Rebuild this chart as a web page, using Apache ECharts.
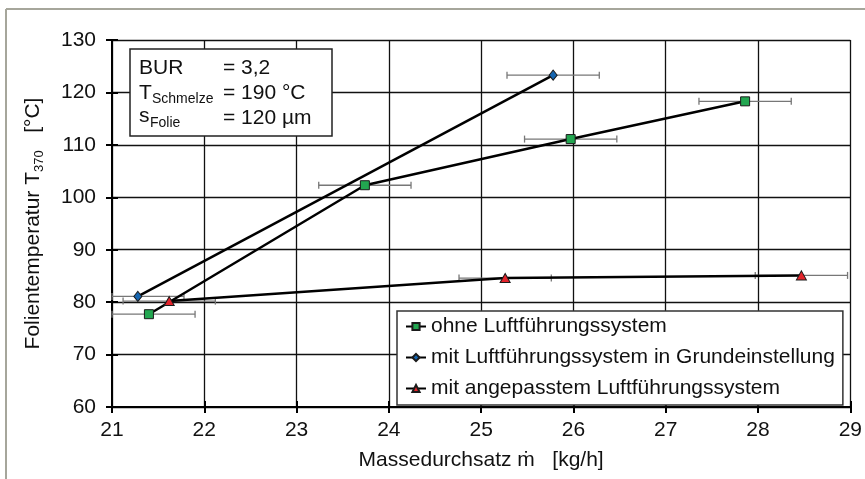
<!DOCTYPE html>
<html>
<head>
<meta charset="utf-8">
<script src="https://cdn.jsdelivr.net/npm/echarts@6/dist/echarts.min.js"></script>
<style>
html,body{margin:0;padding:0;background:#fff;}
#c{width:865px;height:479px;}
</style>
</head>
<body>
<div id="c"></div>
<script>
// ---- data ----
const seriesNames = [
  'ohne Luftführungssystem',
  'mit Luftführungssystem in Grundeinstellung',
  'mit angepasstem Luftführungssystem'
];
const ohneX  = [21.40, 23.74, 25.97, 27.86];
const ohneY  = [77.7, 102.3, 111.1, 118.3];
const grundX = [21.28, 25.78];
const grundY = [81.1, 123.3];
const angepX = [21.62, 25.26, 28.47];
const angepY = [80.2, 84.6, 85.1];
const ohneErr  = [0.5, 0.5, 0.5, 0.5];
const grundErr = [0.5, 0.5];
const angepErr = [0.5, 0.5, 0.5];
const xMin = 21, xMax = 29, xStep = 1;
const yMin = 60, yMax = 130, yStep = 10;

const FONT = '"Liberation Sans", Arial, sans-serif';
const FS = 21;

function pairs(xs, ys) { return xs.map((x, i) => [x, ys[i]]); }
function errData(xs, ys, es) { return xs.map((x, i) => [x, ys[i], es[i]]); }

function errRender(params, api) {
  const x = api.value(0), y = api.value(1), e = api.value(2);
  const lo = Math.max(xMin, x - e), hi = Math.min(xMax, x + e);
  const p1 = api.coord([lo, y]), p2 = api.coord([hi, y]);
  const st = { stroke: '#777', lineWidth: 1.3 };
  const cap = 3.5;
  return {
    type: 'group',
    children: [
      { type: 'line', shape: { x1: p1[0], y1: p1[1], x2: p2[0], y2: p2[1] }, style: st },
      { type: 'line', shape: { x1: p1[0], y1: p1[1] - cap, x2: p1[0], y2: p1[1] + cap }, style: st },
      { type: 'line', shape: { x1: p2[0], y1: p2[1] - cap, x2: p2[0], y2: p2[1] + cap }, style: st }
    ]
  };
}

const chart = echarts.init(document.getElementById('c'), null, { renderer: 'canvas' });

const axisLbl = { fontSize: FS, color: '#111', fontFamily: FONT };
const f20 = FS + 'px ' + FONT;
const f14 = '14px ' + FONT;

const option = {
  backgroundColor: '#fff',
  animation: false,
  grid: { left: 112, right: 14, top: 40, bottom: 72 },
  xAxis: [
    {
      type: 'value', min: xMin, max: xMax, interval: xStep,
      axisLine: { lineStyle: { color: '#000', width: 2 } },
      axisTick: { show: true, length: 6, lineStyle: { color: '#000', width: 2 } },
      axisLabel: Object.assign({ margin: 13 }, axisLbl),
      splitLine: { show: true, lineStyle: { color: '#111', width: 1.3 } },
      name: 'Massedurchsatz ṁ   [kg/h]',
      nameLocation: 'middle', nameGap: 43,
      nameTextStyle: { fontSize: FS, color: '#111', fontFamily: FONT }
    },
    {
      type: 'value', min: xMin, max: xMax, interval: xStep, position: 'bottom',
      axisLine: { show: false },
      axisTick: { show: true, inside: true, length: 6, lineStyle: { color: '#000', width: 2 } },
      axisLabel: { show: false }, splitLine: { show: false }
    }
  ],
  yAxis: [
    {
      type: 'value', min: yMin, max: yMax, interval: yStep,
      axisLine: { show: true, lineStyle: { color: '#000', width: 2 } },
      axisTick: { show: true, length: 6, lineStyle: { color: '#000', width: 2 } },
      axisLabel: Object.assign({ margin: 16 }, axisLbl),
      splitLine: { show: true, lineStyle: { color: '#111', width: 1.3 } },
      name: '{a|Folientemperatur T}{sub|370}{a|   [°C]}',
      nameLocation: 'middle', nameGap: 66, nameRotate: 90,
      nameTextStyle: {
        color: '#111', fontFamily: FONT,
        rich: {
          a: { fontSize: FS, lineHeight: 25, verticalAlign: 'middle', fontFamily: FONT, color: '#111' },
          sub: { fontSize: 13, lineHeight: 13, verticalAlign: 'bottom', fontFamily: FONT, color: '#111' }
        }
      }
    },
    {
      type: 'value', min: yMin, max: yMax, interval: yStep, position: 'left',
      axisLine: { show: false },
      axisTick: { show: true, inside: true, length: 6, lineStyle: { color: '#000', width: 2 } },
      axisLabel: { show: false }, splitLine: { show: false }
    }
  ],
  legend: {
    orient: 'vertical',
    left: 397, top: 311,
    data: seriesNames,
    itemWidth: 20, itemHeight: 9, itemGap: 10,
    padding: [5, 8, 6, 8],
    backgroundColor: '#fff',
    borderColor: '#333', borderWidth: 1.5,
    textStyle: { fontSize: FS, color: '#111', fontFamily: FONT }
  },
  graphic: [
    { type: 'line', shape: { x1: 6, y1: 9, x2: 865, y2: 9 }, style: { stroke: '#a6a69b', lineWidth: 2 }, z: 100 },
    { type: 'line', shape: { x1: 6, y1: 9, x2: 6, y2: 479 }, style: { stroke: '#a6a69b', lineWidth: 2 }, z: 100 },
    { type: 'rect', shape: { x: 130, y: 49, width: 202, height: 87 }, style: { fill: '#fff', stroke: '#222', lineWidth: 1.5 }, z: 50 },
    { type: 'text', x: 139, y: 68, style: { text: 'BUR', font: f20, fill: '#111', verticalAlign: 'middle' }, z: 51 },
    { type: 'text', x: 223, y: 68, style: { text: '= 3,2', font: f20, fill: '#111', verticalAlign: 'middle' }, z: 51 },
    { type: 'text', x: 139, y: 93, style: { text: 'T', font: f20, fill: '#111', verticalAlign: 'middle' }, z: 51 },
    { type: 'text', x: 152, y: 99.5, style: { text: 'Schmelze', font: f14, fill: '#111', verticalAlign: 'middle' }, z: 51 },
    { type: 'text', x: 223, y: 93, style: { text: '= 190 °C', font: f20, fill: '#111', verticalAlign: 'middle' }, z: 51 },
    { type: 'text', x: 139, y: 116.5, style: { text: 's', font: f20, fill: '#111', verticalAlign: 'middle' }, z: 51 },
    { type: 'text', x: 150, y: 123.5, style: { text: 'Folie', font: f14, fill: '#111', verticalAlign: 'middle' }, z: 51 },
    { type: 'text', x: 223, y: 118, style: { text: '= 120 µm', font: f20, fill: '#111', verticalAlign: 'middle' }, z: 51 }
  ],
  series: [
    { type: 'custom', name: 'err1', renderItem: errRender, data: errData(ohneX, ohneY, ohneErr), z: 2, silent: true },
    { type: 'custom', name: 'err2', renderItem: errRender, data: errData(grundX, grundY, grundErr), z: 2, silent: true },
    { type: 'custom', name: 'err3', renderItem: errRender, data: errData(angepX, angepY, angepErr), z: 2, silent: true },
    {
      type: 'line', name: seriesNames[0], data: pairs(ohneX, ohneY),
      symbol: 'rect', symbolSize: 9,
      lineStyle: { color: '#000', width: 2.5 },
      itemStyle: { color: '#22a650', borderColor: '#1a1a1a', borderWidth: 1 },
      z: 5
    },
    {
      type: 'line', name: seriesNames[1], data: pairs(grundX, grundY),
      symbol: 'diamond', symbolSize: [8, 10],
      lineStyle: { color: '#000', width: 2.5 },
      itemStyle: { color: '#1565b0', borderColor: '#1a1a1a', borderWidth: 1 },
      z: 5
    },
    {
      type: 'line', name: seriesNames[2], data: pairs(angepX, angepY),
      symbol: 'triangle', symbolSize: [10, 9],
      lineStyle: { color: '#000', width: 2.5 },
      itemStyle: { color: '#e3242b', borderColor: '#1a1a1a', borderWidth: 1 },
      z: 5
    }
  ]
};
chart.setOption(option);
</script>
</body>
</html>
